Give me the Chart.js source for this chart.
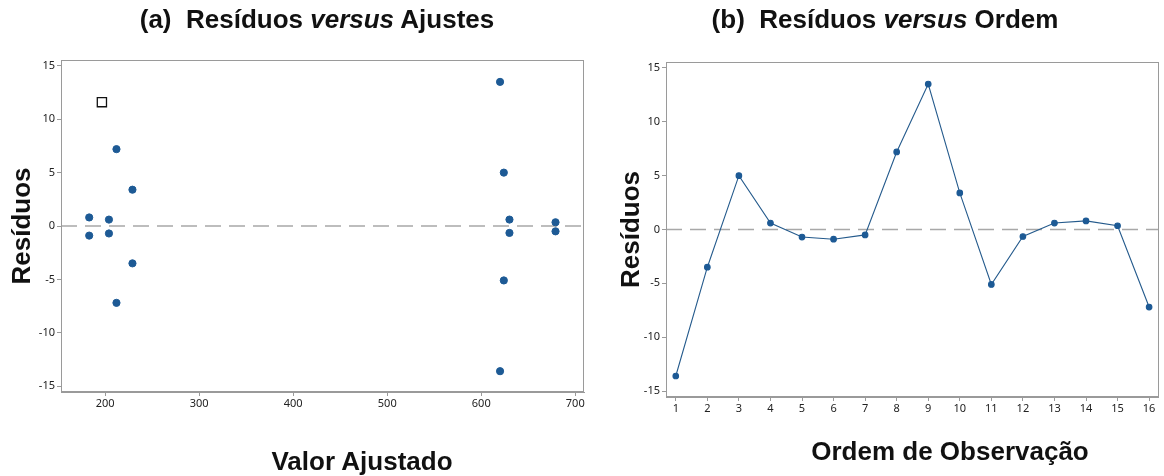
<!DOCTYPE html>
<html>
<head>
<meta charset="utf-8">
<script src="https://cdn.jsdelivr.net/npm/chart.js@4.4.1/dist/chart.umd.min.js"></script>
<style>
  html, body { margin: 0; padding: 0; background: #fff; }
  #wrap { position: relative; width: 1164px; height: 476px; overflow: hidden; }
  #wrap canvas { position: absolute; top: 0; }
  .ttl, .axt {
    position: absolute; white-space: nowrap; line-height: 30px;
    font: bold 26px "Liberation Sans", Arial, sans-serif; color: #111;
    transform: translate(-50%, -50%);
  }
</style>
</head>
<body>
<div id="wrap">
  <canvas id="fitChart" width="592" height="476" style="left:0"></canvas>
  <canvas id="orderChart" width="572" height="476" style="left:592px"></canvas>
  <div class="ttl" style="left:317px; top:19px">(a)&nbsp; Resíduos <i>versus</i> Ajustes</div>
  <div class="ttl" style="left:885px; top:19px">(b)&nbsp; Resíduos <i>versus</i> Ordem</div>
  <div class="axt" style="left:362px; top:461px">Valor Ajustado</div>
  <div class="axt" style="left:950px; top:451px">Ordem de Observação</div>
</div>
<script>
// residuos por ordem de observacao (1..16) e o valor ajustado de cada uma
const observationOrder = [1, 2, 3, 4, 5, 6, 7, 8, 9, 10, 11, 12, 13, 14, 15, 16];
const residuals = [-13.6, -3.5, 5.0, 0.6, -0.7, -0.9, -0.5, 7.2, 13.5, 3.4, -5.1, -0.65, 0.6, 0.8, 0.35, -7.2];
const fittedValues = [620, 229, 624, 630, 204, 183, 679, 212, 620, 229, 624, 630, 204, 183, 679, 212];

// marcador quadrado solto no painel (a)
const squareMark = [{ x: 196.5, y: 11.6 }];

const fitTicks = [200, 300, 400, 500, 600, 700];
const residualTicks = [-15, -10, -5, 0, 5, 10, 15];
const refResidual = 0;

const BLUE = '#1d5a95';
const AXIS = '#9a9a9a';
const tickFont = { family: '"Noto Sans", "Open Sans", sans-serif', size: 11 };

// moldura completa em volta da area do grafico + linha tracejada no zero
const framePlugin = {
  id: 'frame',
  beforeDatasetsDraw(chart) {
    const { ctx, chartArea: a, scales } = chart;
    const y0 = scales.y.getPixelForValue(refResidual);
    ctx.save();
    ctx.strokeStyle = '#a8a8a8';
    ctx.lineWidth = 1.5;
    ctx.setLineDash([16, 8]);
    ctx.beginPath();
    ctx.moveTo(a.left, y0);
    ctx.lineTo(a.right, y0);
    ctx.stroke();
    ctx.restore();
  },
  afterDraw(chart) {
    const { ctx, chartArea: a } = chart;
    ctx.save();
    ctx.strokeStyle = AXIS;
    ctx.lineWidth = 1;
    ctx.strokeRect(Math.round(a.left) + 0.5, Math.round(a.top) + 0.5,
      Math.round(a.right - a.left) - 1, Math.round(a.bottom - a.top) - 1);
    ctx.restore();
  }
};

function yScale(width, titlePad) {
  return {
    min: -15.55, max: 15.55,
    afterBuildTicks: s => { s.ticks = residualTicks.map(v => ({ value: v })); },
    afterFit: s => { s.width = width; },
    ticks: { font: tickFont, color: '#222', padding: 2 },
    grid: { drawOnChartArea: false, tickLength: 4, color: AXIS },
    border: { color: AXIS },
    title: {
      display: true, text: 'Resíduos', color: '#111',
      font: { family: '"Liberation Sans", Arial, sans-serif', size: 26, weight: 'bold' },
      padding: { top: titlePad, bottom: 0 }
    }
  };
}

function xScale(opts) {
  return Object.assign({
    type: 'linear',
    ticks: { font: tickFont, color: '#222', padding: 1, maxRotation: 0 },
    grid: { drawOnChartArea: false, tickLength: 4, color: AXIS },
    border: { color: AXIS }
  }, opts);
}

const common = {
  responsive: false,
  animation: false,
  plugins: { legend: { display: false }, tooltip: { enabled: false } }
};

new Chart(document.getElementById('fitChart'), {
  type: 'scatter',
  data: {
    datasets: [{
      data: fittedValues.map((f, i) => ({ x: f, y: residuals[i] })),
      pointRadius: 3.6,
      pointBackgroundColor: BLUE,
      pointBorderColor: BLUE,
      pointBorderWidth: 1
    }, {
      data: squareMark,
      pointStyle: 'rect',
      pointRadius: 6.5,
      pointBackgroundColor: '#fff',
      pointBorderColor: '#111',
      pointBorderWidth: 1.3
    }]
  },
  options: Object.assign({}, common, {
    layout: { padding: { top: 60, right: 6, bottom: 0, left: 0 } },
    scales: {
      x: xScale({
        min: 153, max: 709.5,
        afterBuildTicks: s => { s.ticks = fitTicks.map(v => ({ value: v })); },
        afterFit: s => { s.height = 84; }
      }),
      y: yScale(61, 7)
    }
  }),
  plugins: [framePlugin]
});

new Chart(document.getElementById('orderChart'), {
  type: 'line',
  data: {
    datasets: [{
      data: observationOrder.map((o, i) => ({ x: o, y: residuals[i] })),
      borderColor: '#245a8c',
      borderWidth: 1.1,
      pointRadius: 2.8,
      pointBackgroundColor: BLUE,
      pointBorderColor: BLUE,
      tension: 0
    }]
  },
  options: Object.assign({}, common, {
    layout: { padding: { top: 62, right: 2, bottom: 0, left: 0 } },
    scales: {
      x: xScale({
        min: 0.69, max: 16.31,
        afterBuildTicks: s => { s.ticks = observationOrder.map(v => ({ value: v })); },
        afterFit: s => { s.height = 79; }
      }),
      y: yScale(74, 24)
    }
  }),
  plugins: [framePlugin]
});
</script>
</body>
</html>
